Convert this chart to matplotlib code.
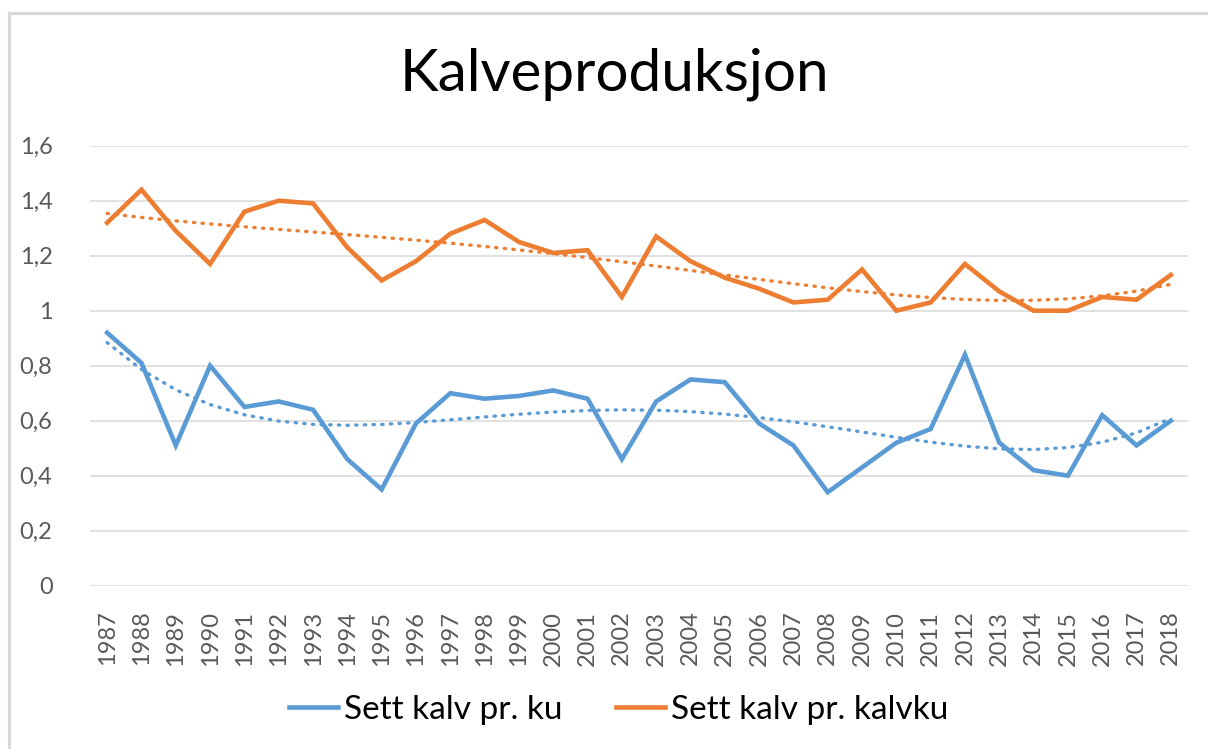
import matplotlib
matplotlib.use('Agg')
import matplotlib.pyplot as plt
import numpy as np

plt.rcParams['font.family'] = ['Lato', 'DejaVu Sans']

years = list(range(1987, 2019))
kalv_pr_ku = [0.92, 0.81, 0.51, 0.80, 0.65, 0.67, 0.64, 0.46, 0.35, 0.59,
              0.70, 0.68, 0.69, 0.71, 0.68, 0.46, 0.67, 0.75, 0.74, 0.59,
              0.51, 0.34, 0.43, 0.52, 0.57, 0.84, 0.52, 0.42, 0.40, 0.62,
              0.51, 0.60]
kalv_pr_kalvku = [1.32, 1.44, 1.29, 1.17, 1.36, 1.40, 1.39, 1.23, 1.11, 1.18,
                  1.28, 1.33, 1.25, 1.21, 1.22, 1.05, 1.27, 1.18, 1.12, 1.08,
                  1.03, 1.04, 1.15, 1.00, 1.03, 1.17, 1.07, 1.00, 1.00, 1.05,
                  1.04, 1.13]
yticks = [0, 0.2, 0.4, 0.6, 0.8, 1.0, 1.2, 1.4, 1.6]
ytick_labels = ['0', '0,2', '0,4', '0,6', '0,8', '1', '1,2', '1,4', '1,6']

blue = '#5B9BD5'
orange = '#ED7D31'
grey_text = '#595959'

W, H = 1208, 749
fig = plt.figure(figsize=(W / 100, H / 100), dpi=100)

# chart border (only left/top visible in the crop)
fig.add_artist(plt.Line2D([8.5 / W, 8.5 / W], [0, 1 - 12.5 / H], color='#D9D9D9', lw=2.2))
fig.add_artist(plt.Line2D([8.5 / W, 1], [1 - 12.5 / H, 1 - 12.5 / H], color='#D9D9D9', lw=2.2))

ax = fig.add_axes([90 / W, 1 - 585.7 / H, (1188 - 90) / W, (585.7 - 145.7) / H])

x = np.arange(len(years))
xx = np.arange(1, len(years) + 1)

# polynomial trendlines (as in Excel)
trend_ku = np.polyval(np.polyfit(xx, kalv_pr_ku, 4), xx)
trend_kalvku = np.polyval(np.polyfit(xx, kalv_pr_kalvku, 4), xx)

ax.plot(x, trend_ku, color=blue, lw=2.4, linestyle=(0, (0.4, 2.2)), dash_capstyle='round', zorder=3)
ax.plot(x, trend_kalvku, color=orange, lw=2.4, linestyle=(0, (0.4, 2.2)), dash_capstyle='round', zorder=3)
ax.plot(x, kalv_pr_ku, color=blue, lw=3.3, label='Sett kalv pr. ku', solid_joinstyle='miter', zorder=4)
ax.plot(x, kalv_pr_kalvku, color=orange, lw=3.3, label='Sett kalv pr. kalvku', solid_joinstyle='miter', zorder=4)

ax.set_xlim(-0.5, len(years) - 0.5)
ax.set_ylim(0, 1.6)
ax.set_yticks(yticks)
ax.set_yticklabels(ytick_labels)
ax.set_xticks(x)
ax.set_xticklabels([str(y) for y in years], rotation=90)
ax.tick_params(axis='both', length=0, colors=grey_text, labelsize=17)
ax.tick_params(axis='y', pad=27)
ax.tick_params(axis='x', pad=18)
ax.grid(axis='y', color='#D9D9D9', lw=1.1)
ax.set_axisbelow(True)
for s in ax.spines.values():
    s.set_visible(False)

fig.text(614 / W, 1 - 74 / H, 'Kalveproduksjon', ha='center', va='center', fontsize=42, color='black')

leg = fig.legend(loc='center', bbox_to_anchor=(619 / W, 1 - 710 / H), ncol=2, frameon=False,
                 fontsize=24, handlelength=1.45, handletextpad=0.2, columnspacing=1.6)
for t in leg.get_texts():
    t.set_color('black')

fig.savefig('out.png', dpi=100)
